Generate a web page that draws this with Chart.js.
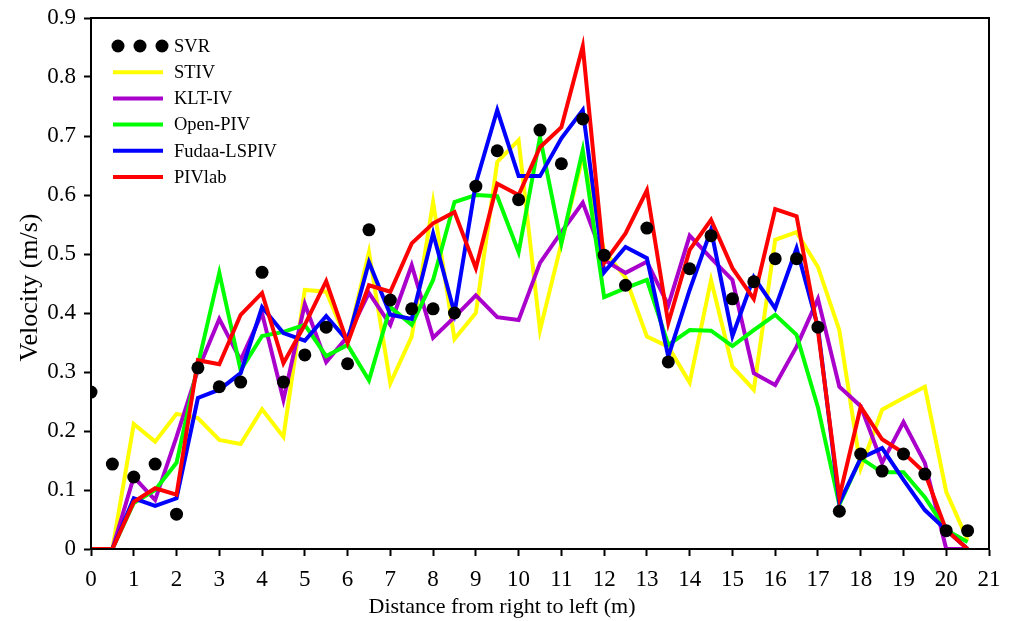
<!DOCTYPE html>
<html>
<head>
<meta charset="utf-8">
<script src="https://cdn.jsdelivr.net/npm/chart.js@4/dist/chart.umd.min.js"></script>
<style>
  html, body { margin: 0; padding: 0; background: #fff; }
  #wrap { width: 1009px; height: 621px; }
</style>
</head>
<body>
<div id="wrap"><canvas id="chart" width="1009" height="621"></canvas></div>
<script>
// distances (m), every 0.5 m
const distance = [0,0.5,1,1.5,2,2.5,3,3.5,4,4.5,5,5.5,6,6.5,7,7.5,8,8.5,9,9.5,10,10.5,11,11.5,12,12.5,13,13.5,14,14.5,15,15.5,16,16.5,17,17.5,18,18.5,19,19.5,20,20.5];

const svr   = [0.266,0.144,0.122,0.144,0.059,0.307,0.275,0.283,0.469,0.283,0.329,0.376,0.314,0.541,0.422,0.407,0.407,0.400,0.615,0.675,0.592,0.710,0.653,0.729,0.498,0.447,0.544,0.317,0.475,0.531,0.424,0.453,0.492,0.492,0.376,0.064,0.161,0.132,0.161,0.127,0.031,0.031];
const stiv  = [0,0,0.212,0.182,0.229,0.222,0.185,0.178,0.237,0.190,0.439,0.436,0.350,0.503,0.281,0.360,0.588,0.356,0.400,0.656,0.693,0.371,0.518,0.665,0.505,0.460,0.360,0.343,0.282,0.456,0.309,0.270,0.524,0.537,0.478,0.371,0.137,0.236,0.256,0.275,0.097,0.015];
const kltiv = [0,0,0.122,0.083,0.190,0.303,0.390,0.320,0.400,0.253,0.415,0.317,0.360,0.434,0.380,0.481,0.358,0.393,0.430,0.393,0.388,0.485,0.537,0.587,0.490,0.468,0.487,0.413,0.531,0.493,0.456,0.298,0.278,0.343,0.424,0.275,0.242,0.146,0.215,0.146,0,0];
const openpiv = [0,0,0.078,0.100,0.146,0.312,0.468,0.303,0.361,0.368,0.380,0.327,0.346,0.286,0.410,0.380,0.456,0.588,0.600,0.598,0.503,0.698,0.518,0.676,0.427,0.442,0.456,0.346,0.371,0.370,0.344,0.371,0.397,0.363,0.240,0.075,0.154,0.130,0.130,0.088,0.032,0.012];
const fudaa = [0,0,0.086,0.073,0.086,0.256,0.270,0.298,0.410,0.366,0.353,0.395,0.353,0.486,0.397,0.390,0.535,0.400,0.620,0.744,0.632,0.632,0.696,0.744,0.469,0.512,0.493,0.326,0.439,0.541,0.361,0.461,0.408,0.510,0.376,0.078,0.154,0.171,0.117,0.066,0.032,0];
const pivlab = [0,0,0.080,0.103,0.092,0.320,0.313,0.397,0.434,0.315,0.380,0.454,0.349,0.447,0.436,0.518,0.552,0.571,0.476,0.619,0.600,0.681,0.715,0.852,0.485,0.535,0.608,0.383,0.507,0.558,0.476,0.424,0.576,0.564,0.370,0.088,0.241,0.186,0.163,0.129,0.032,0];

const xTicks = [0,1,2,3,4,5,6,7,8,9,10,11,12,13,14,15,16,17,18,19,20,21];
const yTicks = [0,0.1,0.2,0.3,0.4,0.5,0.6,0.7,0.8,0.9];
const xTitle = 'Distance from right to left (m)';
const yTitle = 'Velocity (m/s)';

const FONT = '"Liberation Serif", "Times New Roman", serif';

function pts(vals) { return vals.map((v, i) => ({ x: distance[i], y: v })); }

function lineSet(label, vals, color, order) {
  return {
    label, data: pts(vals), borderColor: color, backgroundColor: color,
    borderWidth: 4, pointRadius: 0, tension: 0, order
  };
}

const datasets = [
  { label: 'SVR', data: pts(svr), showLine: false, pointRadius: 6.5, pointHoverRadius: 6.5,
    backgroundColor: '#000', borderColor: '#000', borderWidth: 0, order: 0 },
  lineSet('STIV', stiv, '#FFFF00', 5),
  lineSet('KLT-IV', kltiv, '#AA00CC', 4),
  lineSet('Open-PIV', openpiv, '#00FF00', 3),
  lineSet('Fudaa-LSPIV', fudaa, '#0000FF', 2),
  lineSet('PIVlab', pivlab, '#FF0000', 1)
];

// frame round the plot, axis titles, legend in the upper left
const framePlugin = {
  id: 'frame',
  afterDraw(chart) {
    const { ctx, chartArea: a } = chart;
    ctx.save();
    ctx.strokeStyle = '#000';
    ctx.lineWidth = 2;
    ctx.strokeRect(a.left, a.top, a.right - a.left, a.bottom - a.top);

    // axis titles
    ctx.fillStyle = '#000';
    ctx.textAlign = 'center';
    ctx.textBaseline = 'middle';
    ctx.font = '22px ' + FONT;
    ctx.fillText(xTitle, 502, 607);
    ctx.save();
    ctx.translate(30, (a.top + a.bottom) / 2 + 4);
    ctx.rotate(-Math.PI / 2);
    ctx.font = '26px ' + FONT;
    ctx.fillText(yTitle, 0, 0);
    ctx.restore();

    // legend
    ctx.textAlign = 'left';
    ctx.font = '18.5px ' + FONT;
    const x0 = a.left + 22, y0 = a.top + 28, gap = 26.2;
    chart.data.datasets.forEach((ds, i) => {
      const y = y0 + i * gap;
      if (ds.showLine === false) {
        [0, 22, 44].forEach(dx => {
          ctx.beginPath();
          ctx.arc(x0 + 5 + dx, y, 6.5, 0, Math.PI * 2);
          ctx.fillStyle = '#000';
          ctx.fill();
        });
      } else {
        ctx.beginPath();
        ctx.moveTo(x0, y);
        ctx.lineTo(x0 + 50, y);
        ctx.strokeStyle = ds.borderColor;
        ctx.lineWidth = 4;
        ctx.stroke();
      }
      ctx.fillStyle = '#000';
      ctx.fillText(ds.label, x0 + 61, y + 1);
    });
    ctx.restore();
  }
};

// keep the plot box fixed: no extra room for overhanging end labels
function noOverhang(s) {
  s.paddingLeft = 0; s.paddingRight = 0; s.paddingTop = 0; s.paddingBottom = 0;
}

new Chart(document.getElementById('chart'), {
  type: 'line',
  data: { datasets },
  options: {
    responsive: false,
    animation: false,
    layout: { padding: { top: 18, right: 20, left: 0, bottom: 0 } },
    plugins: { legend: { display: false }, tooltip: { enabled: false } },
    scales: {
      x: {
        type: 'linear', min: 0, max: 21,
        afterBuildTicks: s => { s.ticks = xTicks.map(v => ({ value: v })); },
        afterFit: s => { s.height = 72; noOverhang(s); },
        ticks: { color: '#000', font: { family: FONT, size: 23 }, padding: 10, maxRotation: 0, autoSkip: false },
        grid: { drawOnChartArea: false, drawTicks: true, tickLength: 7, tickWidth: 2, color: '#000' },
        border: { display: true, color: '#000', width: 2 }
      },
      y: {
        type: 'linear', min: 0, max: 0.9,
        afterBuildTicks: s => { s.ticks = yTicks.map(v => ({ value: v })); },
        afterFit: s => { s.width = 91; noOverhang(s); },
        ticks: { color: '#000', font: { family: FONT, size: 23 }, padding: 8,
                 callback: v => String(Math.round(v * 10) / 10) },
        grid: { drawOnChartArea: false, drawTicks: true, tickLength: 7, tickWidth: 2, color: '#000' },
        border: { display: true, color: '#000', width: 2 }
      }
    }
  },
  plugins: [framePlugin]
});
</script>
</body>
</html>
